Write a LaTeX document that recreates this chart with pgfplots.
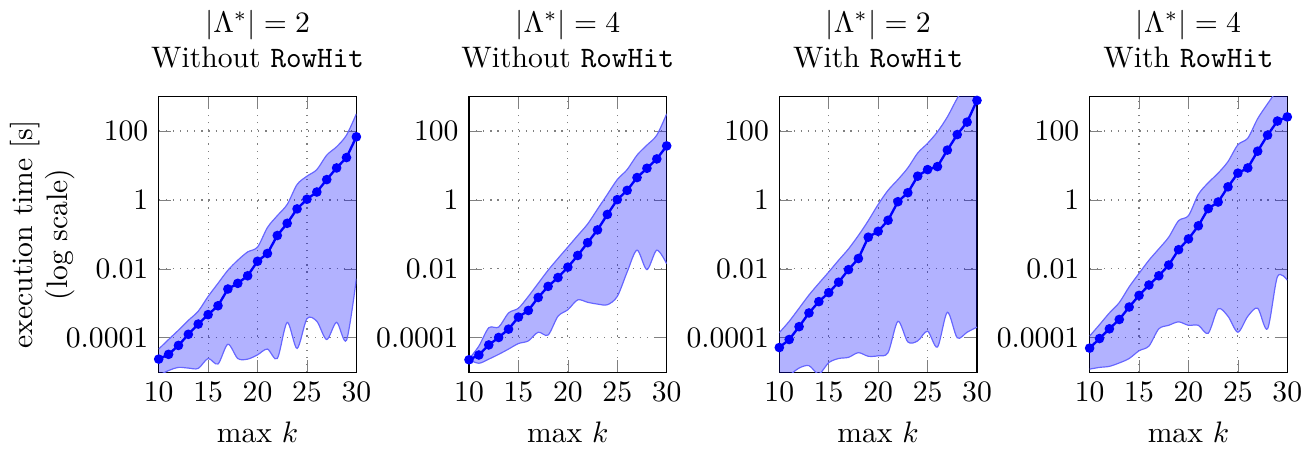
\documentclass[border=0pt]{standalone}
\usepackage{pgfplots}
\pgfplotsset{compat=1.18}
\usepgfplotslibrary{groupplots,fillbetween}

% k, mean, upper and lower edge of the band (seconds)
\pgfplotstableread{
k  mean     up       lo
10 2.4e-5   4.7e-5   8e-6
11 3.3e-5   8.9e-5   1.12e-5
12 6.0e-5   1.66e-4  1.38e-5
13 1.26e-4  3.2e-4   1.32e-5
14 2.5e-4   5.9e-4   1.29e-5
15 4.7e-4   1.58e-3  2.5e-5
16 8.5e-4   3.8e-3   1.74e-5
17 2.6e-3   9.1e-3   6.5e-5
18 3.8e-3   1.78e-2  2.5e-5
19 6.3e-3   3.1e-2   2.4e-5
20 1.66e-2  4.3e-2   3.2e-5
21 2.8e-2   0.158    4.7e-5
22 9.3e-2   0.35     2.5e-5
23 0.21     0.74     2.8e-4
24 0.55     2.8      4.9e-5
25 1.05     4.9      3.6e-4
26 1.7      7.6      3.0e-4
27 3.9      20       8.9e-5
28 8.5      35       2.8e-4
29 17       76       8.5e-5
30 68       316      5.2e-3
}\tabA

\pgfplotstableread{
k  mean     up       lo
10 2.3e-5   2.4e-5   2.3e-5
11 3.16e-5  5.75e-5  1.82e-5
12 6.2e-5   1.95e-4  2.4e-5
13 1.02e-4  2.04e-4  3.3e-5
14 1.78e-4  5.25e-4  4.7e-5
15 3.98e-4  7.2e-4   6.8e-5
16 6.2e-4   1.58e-3  8.1e-5
17 1.48e-3  3.8e-3   1.45e-4
18 3.1e-3   9.1e-3   1.2e-4
19 5.6e-3   2.0e-2   4.2e-4
20 1.12e-2  4.3e-2   6.5e-4
21 2.45e-2  9.3e-2   1.26e-3
22 5.75e-2  0.20     1.07e-3
23 0.135    0.54     9.5e-4
24 0.38     1.45     9.1e-4
25 1.02     3.9      1.58e-3
26 1.9      7.6      8.1e-3
27 4.47     20       3.5e-2
28 8.3      39       9.5e-3
29 15.5     76       3.5e-2
30 37       316      1.4e-2
}\tabB

\pgfplotstableread{
k  mean     up       lo
10 5.2e-5   1.41e-4  4.0e-6
11 8.9e-5   3.0e-4   7.9e-6
12 2.1e-4   7.2e-4   1.32e-5
13 5.25e-4  1.74e-3  1.55e-5
14 1.12e-3  3.8e-3   8.9e-6
15 2.04e-3  8.1e-3   1.9e-5
16 4.1e-3   1.78e-2  2.5e-5
17 9.5e-3   3.8e-2   2.7e-5
18 2.0e-2   9.3e-2   3.7e-5
19 8.3e-2   0.25     2.9e-5
20 0.123    0.74     3.0e-5
21 0.257    1.9      3.7e-5
22 0.89     3.9      3.0e-4
23 1.62     8.5      7.6e-5
24 4.9      23       8.1e-5
25 7.6      44       1.55e-4
26 9.3      95       5.4e-5
27 28       257      5.5e-4
28 79       891      1.0e-4
29 182      2512     1.45e-4
30 776      6310     2.04e-4
}\tabC

\pgfplotstableread{
k  mean     up       lo
10 5.0e-5   1.12e-4  1.23e-5
11 9.5e-5   2.4e-4   1.38e-5
12 1.82e-4  5.25e-4  1.48e-5
13 3.4e-4   1.05e-3  1.86e-5
14 7.8e-4   3.0e-3   2.5e-5
15 1.7e-3   7.4e-3   4.2e-5
16 3.4e-3   1.78e-2  5.75e-5
17 6.3e-3   3.8e-2   1.82e-4
18 1.29e-2  8.3e-2   2.3e-4
19 3.6e-2   0.25     2.9e-4
20 7.4e-2   0.35     2.3e-4
21 0.178    1.45     2.3e-4
22 0.56     3.16     1.35e-4
23 0.87     6.0      6.9e-4
24 2.4      13       4.2e-4
25 6.0      40       1.45e-4
26 8.5      62       4.2e-4
27 26       229      7.2e-4
28 76       617      1.82e-4
29 195      1585     5.9e-3
30 257      3981     4.7e-3
}\tabD

\begin{document}
\begin{tikzpicture}
\begin{groupplot}[
  group style={group size=4 by 1, horizontal sep=38pt},
  scale only axis, width=66.7pt, height=93pt,
  ymode=log,
  xmin=10, xmax=30, ymin=1e-5, ymax=1e3,
  xtick={10,15,20,25,30},
  ytick={1e-4,1e-2,1,100},
  yticklabels={$0.0001$,$0.01$,$1$,$100$},
  grid=major, grid style={dotted, gray},
  xlabel={max $k$},
  title style={align=center},
]
\nextgroupplot[title={$|\Lambda^*|=2$\\Without \texttt{RowHit}},
  ylabel={execution time [s]\\(log scale)},
  ylabel style={align=center, at={(axis description cs:-0.37,0.5)}, anchor=south}]
  \addplot[name path=up, draw=blue!60, thin, smooth] table[x=k, y=up] {\tabA};
  \addplot[name path=lo, draw=blue!60, thin, smooth] table[x=k, y=lo] {\tabA};
  \addplot[blue, fill opacity=0.3] fill between[of=up and lo];
  \addplot[blue, thick, mark=*, mark size=1.2pt] table[x=k, y=mean] {\tabA};

\nextgroupplot[title={$|\Lambda^*|=4$\\Without \texttt{RowHit}}]
  \addplot[name path=up, draw=blue!60, thin, smooth] table[x=k, y=up] {\tabB};
  \addplot[name path=lo, draw=blue!60, thin, smooth] table[x=k, y=lo] {\tabB};
  \addplot[blue, fill opacity=0.3] fill between[of=up and lo];
  \addplot[blue, thick, mark=*, mark size=1.2pt] table[x=k, y=mean] {\tabB};

\nextgroupplot[title={$|\Lambda^*|=2$\\With \texttt{RowHit}}]
  \addplot[name path=up, draw=blue!60, thin, smooth] table[x=k, y=up] {\tabC};
  \addplot[name path=lo, draw=blue!60, thin, smooth] table[x=k, y=lo] {\tabC};
  \addplot[blue, fill opacity=0.3] fill between[of=up and lo];
  \addplot[blue, thick, mark=*, mark size=1.2pt] table[x=k, y=mean] {\tabC};

\nextgroupplot[title={$|\Lambda^*|=4$\\With \texttt{RowHit}}]
  \addplot[name path=up, draw=blue!60, thin, smooth] table[x=k, y=up] {\tabD};
  \addplot[name path=lo, draw=blue!60, thin, smooth] table[x=k, y=lo] {\tabD};
  \addplot[blue, fill opacity=0.3] fill between[of=up and lo];
  \addplot[blue, thick, mark=*, mark size=1.2pt] table[x=k, y=mean] {\tabD};
\end{groupplot}
\end{tikzpicture}
\end{document}
